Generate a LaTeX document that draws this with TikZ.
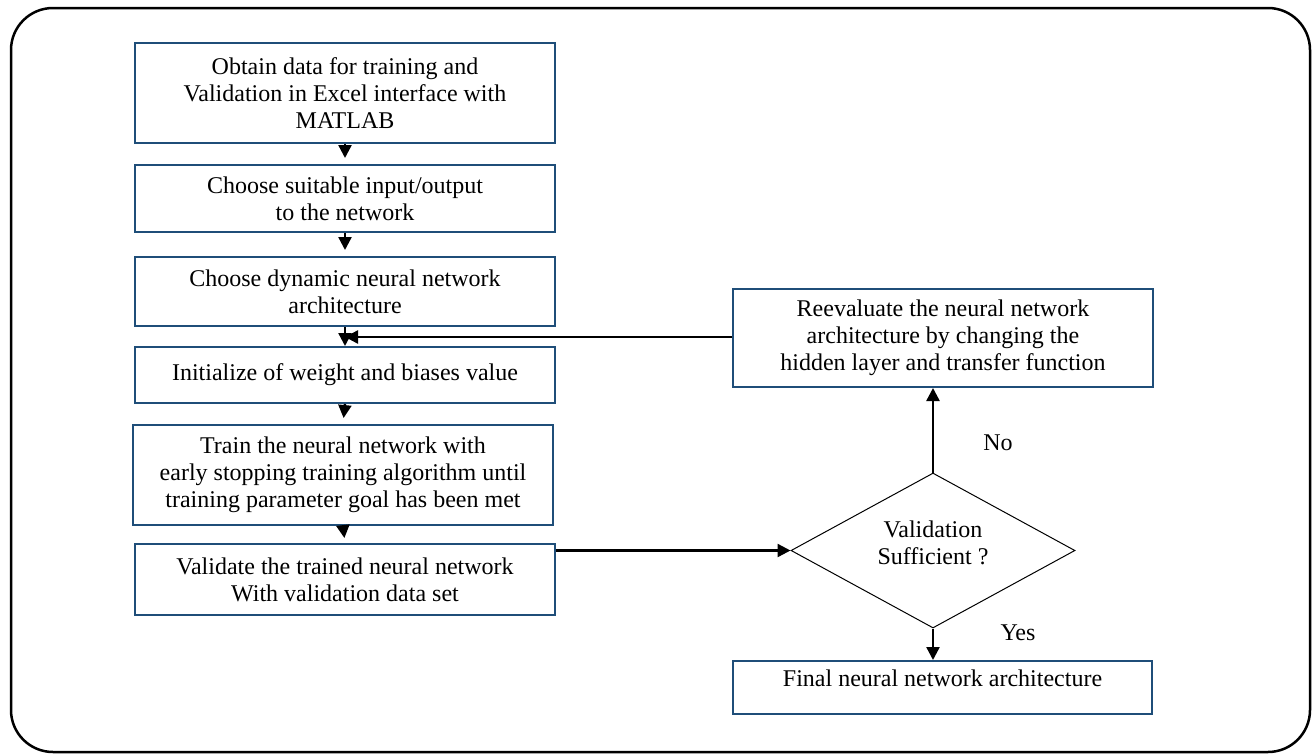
\documentclass[tikz,border=0pt]{standalone}
\usepackage{fontspec}
\setmainfont{Liberation Serif}
\usetikzlibrary{shapes.geometric,arrows.meta}
\definecolor{boxblue}{RGB}{31,78,121}
\tikzset{
  stepbox/.style={draw=boxblue, line width=2pt, fill=white, align=center,
    font=\fontsize{24}{27}\selectfont, inner sep=0pt},
  conn/.style={draw=black, line width=2.4pt,
    -{Triangle[width=13pt,length=13pt]}},
  lbl/.style={font=\fontsize{24}{27}\selectfont, inner sep=0pt}
}
\begin{document}
\begin{tikzpicture}[x=1pt,y=-1pt]
\useasboundingbox (0,0) rectangle (1312,755);
\draw[line width=2.5pt, rounded corners=42pt] (11,8) rectangle (1310,752);

\node[stepbox, minimum width=420pt, minimum height=100pt] (b1) at (345,93)
  {Obtain data for training and\\Validation in Excel interface with\\MATLAB};
\node[stepbox, minimum width=420pt, minimum height=67pt] (b2) at (345,198.5)
  {Choose suitable input/output\\to the network};
\node[stepbox, minimum width=420pt, minimum height=69pt] (b3) at (345,291.5)
  {Choose dynamic neural network\\architecture};
\node[stepbox, minimum width=420pt, minimum height=56pt] (b4) at (345,375)
  {Initialize of weight and biases value};
\node[stepbox, minimum width=420pt, minimum height=100pt] (b5) at (343,475)
  {Train the neural network with\\early stopping training algorithm until\\training parameter goal has been met};
\node[stepbox, minimum width=420pt, minimum height=71pt] (b6) at (345,579.5)
  {Validate the trained neural network\\With validation data set};

\node[stepbox, minimum width=420pt, minimum height=98pt] (r1) at (943,338)
  {Reevaluate the neural network\\architecture by changing the\\hidden layer and transfer function};
\node[draw=black, line width=1pt, shape=diamond, aspect=1.83,
  minimum width=284pt, minimum height=155pt, inner sep=0pt] (d1) at (933,550.5) {};
\node[lbl, align=center] (dt) at (933,542.5) {Validation\\Sufficient ?};
\node[stepbox, minimum width=419pt, minimum height=53pt, text depth=18pt] (f1) at (942.5,687.5)
  {Final neural network architecture};

\coordinate (m34) at (345,337);

\draw[conn, shorten >=6pt] (b1.south) -- (b2.north);
\draw[conn, shorten >=6pt] (b2.south) -- (b3.north);
\draw[conn] (b3.south) -- (b4.north);
\draw[conn, shorten >=6pt] (b4.south) -- (b5.north);
\draw[conn, shorten >=5pt] (b5.south) -- (b6.north);
\draw[conn] (r1.west |- m34) -- (m34);
\draw[conn] (b6.east |- d1.west) -- (d1.west);
\draw[conn] (d1.north) -- (d1.north |- r1.south);
\draw[conn] (d1.south) -- (d1.south |- f1.north);

\node[lbl] (no) at (998,443) {No};
\node[lbl] (yes) at (1018,633) {Yes};
\end{tikzpicture}
\end{document}
